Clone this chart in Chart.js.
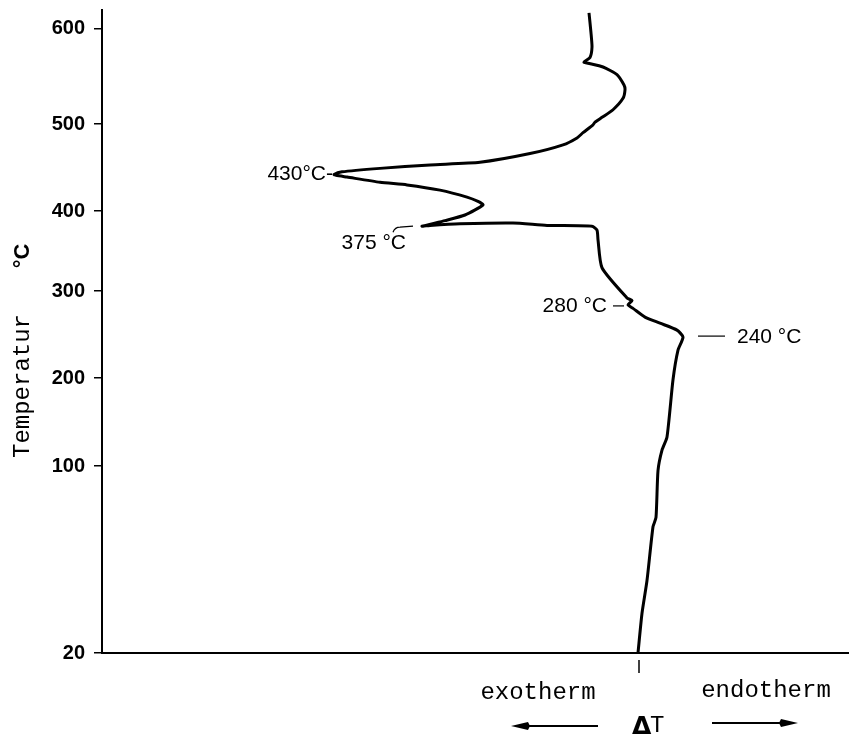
<!DOCTYPE html>
<html>
<head>
<meta charset="utf-8">
<script src="https://cdn.jsdelivr.net/npm/chart.js@4/dist/chart.umd.min.js"></script>
<style>
  body { margin: 0; background: #fff; }
  #wrap { width: 849px; height: 737px; position: relative; }
</style>
</head>
<body>
<div id="wrap"><canvas id="dta"></canvas></div>
<script>
// Werte der Temperaturachse (ungleichmaessig geteilt)
const tempTicks = [20, 100, 200, 300, 400, 500, 600];

const curveDT = [0, 4, 9, 15, 18, 20, 24, 29, 35, 40, 45, 39, 22, 7, -5, -10, -6, -11, -36, -40,
                 -41, -46, -91, -125, -178, -208, -216, -193, -173, -155, -160, -171, -198, -231, -258, -291,
                 -302, -304, -296, -258, -208, -158, -108, -75, -61, -55, -45, -43, -36, -25, -15, -13,
                 -14, -21, -35, -50, -54, -48, -46, -47, -49];
const curveT  = [20, 37, 51, 74, 78, 98, 118, 133, 198, 232, 247, 255, 263, 270, 280, 284, 289, 292, 329, 364,
                 376, 381, 382, 385, 384, 382, 381, 388, 395, 407, 411, 416, 424, 430, 433, 439,
                 441, 442, 445, 449, 453, 456, 466, 476, 484, 490, 499, 502, 507, 515, 527, 536,
                 541, 552, 560, 564, 565, 570, 581, 596, 617];

// markierte Peaks
const peakLabels = ["430°C-", "375 °C", "280 °C", "240 °C"];
const peakDT = [-304, -216, -10, 45];
const peakT  = [442, 381, 284, 247];

// Lage der Teilstriche auf der Achse (Anteil der Achsenlaenge)
const axisBreaks = [20, 100, 200, 300, 400, 500, 600, 620];
const axisFracs  = [0, 0.2908, 0.4277, 0.5630, 0.6874, 0.8227, 0.9705, 1];

class PiecewiseScale extends Chart.LinearScale {
    static id = 'piecewise';
    static defaults = {};
    toDecimal(v) {
        let i = 0;
        while (i < axisBreaks.length - 2 && v > axisBreaks[i + 1]) i++;
        const b0 = axisBreaks[i], b1 = axisBreaks[i + 1];
        return axisFracs[i] + (v - b0) / (b1 - b0) * (axisFracs[i + 1] - axisFracs[i]);
    }
    getPixelForValue(value) {
        if (value === null || isNaN(value)) return NaN;
        return this.getPixelForDecimal(this.toDecimal(value));
    }
    getValueForPixel(pixel) {
        const d = this.getDecimalForPixel(pixel);
        let i = 0;
        while (i < axisFracs.length - 2 && d > axisFracs[i + 1]) i++;
        const f0 = axisFracs[i], f1 = axisFracs[i + 1];
        return axisBreaks[i] + (d - f0) / (f1 - f0) * (axisBreaks[i + 1] - axisBreaks[i]);
    }
}
Chart.register(PiecewiseScale);

const sans = '"Liberation Sans", Arial, sans-serif';
const mono = '"Liberation Mono", "Courier New", monospace';

const beschriftung = {
    id: 'beschriftung',
    afterDraw(chart) {
        const ctx = chart.ctx;
        const xs = chart.scales.x, ys = chart.scales.y;
        const area = chart.chartArea;
        ctx.save();
        ctx.fillStyle = '#000';
        ctx.strokeStyle = '#000';

        // Peak-Beschriftungen
        ctx.font = '21px ' + sans;
        ctx.textBaseline = 'middle';
        ctx.lineWidth = 1.2;
        const pts = peakDT.map((d, i) => ({ x: xs.getPixelForValue(d), y: ys.getPixelForValue(peakT[i]) }));

        let p = pts[0];
        ctx.textAlign = 'right';
        ctx.fillText(peakLabels[0], p.x - 1, p.y);

        p = pts[1];
        ctx.fillText(peakLabels[1], p.x - 16, p.y + 17);
        ctx.beginPath();
        ctx.moveTo(p.x - 29, p.y + 6);
        ctx.quadraticCurveTo(p.x - 27, p.y + 1, p.x - 22, p.y + 1);
        ctx.lineTo(p.x - 9, p.y);
        ctx.stroke();

        p = pts[2];
        ctx.fillText(peakLabels[2], p.x - 21, p.y + 1);
        ctx.beginPath();
        ctx.moveTo(p.x - 15, p.y + 1);
        ctx.lineTo(p.x - 4, p.y + 1);
        ctx.stroke();

        p = pts[3];
        ctx.textAlign = 'left';
        ctx.fillText(peakLabels[3], p.x + 54, p.y);
        ctx.beginPath();
        ctx.moveTo(p.x + 15, p.y - 1);
        ctx.lineTo(p.x + 42, p.y - 1);
        ctx.stroke();

        // Achsentitel links
        ctx.font = '24px ' + mono;
        ctx.textAlign = 'center';
        ctx.save();
        ctx.translate(23, 386);
        ctx.rotate(-Math.PI / 2);
        ctx.fillText('Temperatur', 0, 0);
        ctx.restore();
        ctx.save();
        ctx.translate(23, 256);
        ctx.rotate(-Math.PI / 2);
        ctx.font = 'bold 22px ' + sans;
        ctx.fillText('°C', 0, 0);
        ctx.restore();

        // Nullmarke und Richtungsangaben unten
        const x0 = xs.getPixelForValue(0);
        const yb = area.bottom;
        ctx.lineWidth = 1.5;
        ctx.beginPath();
        ctx.moveTo(x0 + 1, yb + 7);
        ctx.lineTo(x0 + 1, yb + 20);
        ctx.stroke();

        ctx.font = '24px ' + mono;
        ctx.textBaseline = 'alphabetic';
        ctx.fillText('exotherm', x0 - 100, yb + 46);
        ctx.fillText('endotherm', x0 + 128, yb + 44);

        ctx.textBaseline = 'middle';
        ctx.textAlign = 'left';
        ctx.font = 'bold 25px "DejaVu Sans", sans-serif';
        ctx.fillText('Δ', x0 - 6, yb + 74);
        ctx.font = '24px ' + mono;
        ctx.fillText('T', x0 + 12, yb + 73);

        ctx.lineWidth = 2;
        // Pfeil nach links
        let ay = yb + 73;
        ctx.beginPath();
        ctx.moveTo(x0 - 40, ay);
        ctx.lineTo(x0 - 112, ay);
        ctx.stroke();
        ctx.beginPath();
        ctx.moveTo(x0 - 127, ay);
        ctx.lineTo(x0 - 110, ay - 4);
        ctx.lineTo(x0 - 108, ay);
        ctx.lineTo(x0 - 110, ay + 4);
        ctx.closePath();
        ctx.fill();
        // Pfeil nach rechts
        ay = yb + 70;
        ctx.beginPath();
        ctx.moveTo(x0 + 74, ay);
        ctx.lineTo(x0 + 146, ay);
        ctx.stroke();
        ctx.beginPath();
        ctx.moveTo(x0 + 160, ay);
        ctx.lineTo(x0 + 143, ay - 4);
        ctx.lineTo(x0 + 141, ay);
        ctx.lineTo(x0 + 143, ay + 4);
        ctx.closePath();
        ctx.fill();

        ctx.restore();
    }
};

new Chart(document.getElementById('dta'), {
    type: 'scatter',
    data: {
        datasets: [{
            data: curveDT.map((d, i) => ({ x: d, y: curveT[i] })),
            showLine: true,
            borderColor: '#000',
            borderWidth: 3,
            pointRadius: 0,
            tension: 0.2,
            fill: false
        }]
    },
    options: {
        responsive: true,
        maintainAspectRatio: false,
        animation: false,
        layout: { padding: { top: 10, right: 0, left: 0, bottom: 0 } },
        plugins: { legend: { display: false }, tooltip: { enabled: false } },
        scales: {
            x: {
                type: 'linear',
                min: -536,
                max: 211,
                ticks: { display: false },
                grid: { drawOnChartArea: false, drawTicks: false },
                border: { display: true, color: '#000', width: 2 },
                afterFit: (scale) => {
                    scale.height = 84;
                    scale.paddingLeft = 0;
                    scale.paddingRight = 0;
                }
            },
            y: {
                type: 'piecewise',
                min: 20,
                max: 620,
                afterBuildTicks: (scale) => { scale.ticks = tempTicks.map(v => ({ value: v })); },
                ticks: {
                    color: '#000',
                    font: { family: sans, size: 20, weight: 'bold' },
                    padding: 9,
                    callback: (v) => String(v)
                },
                grid: { drawOnChartArea: false, drawTicks: true, tickLength: 8, color: '#000', lineWidth: 1.5 },
                border: { display: true, color: '#000', width: 2 },
                afterFit: (scale) => {
                    scale.width = 102;
                    scale.paddingTop = 0;
                    scale.paddingBottom = 0;
                }
            }
        }
    },
    plugins: [beschriftung]
});
</script>
</body>
</html>
